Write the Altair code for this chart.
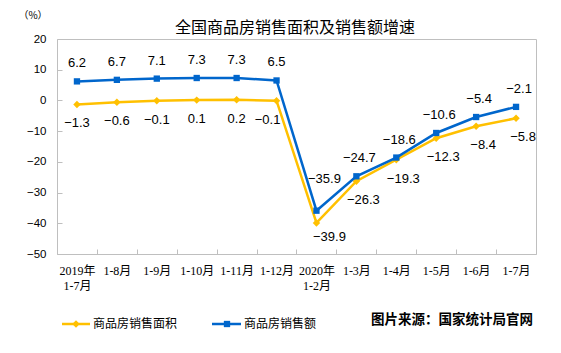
import altair as alt
import pandas as pd

categories = ["2019年 1-7月", "1-8月", "1-9月", "1-10月", "1-11月", "1-12月",
              "2020年 1-2月", "1-3月", "1-4月", "1-5月", "1-6月", "1-7月"]
area_growth = [-1.3, -0.6, -0.1, 0.1, 0.2, -0.1, -39.9, -26.3, -19.3, -12.3, -8.4, -5.8]
sales_growth = [6.2, 6.7, 7.1, 7.3, 7.3, 6.5, -35.9, -24.7, -18.6, -10.6, -5.4, -2.1]
series_names = ["商品房销售面积", "商品房销售额"]
colors = ["#FFC000", "#0066CC"]

rows = []
for i, c in enumerate(categories):
    rows.append({"category": c, "value": area_growth[i], "series": series_names[0], "idx": i})
    rows.append({"category": c, "value": sales_growth[i], "series": series_names[1], "idx": i})
df = pd.DataFrame(rows)

SANS = "Liberation Sans, Arial, sans-serif"
CJK = "Noto Sans CJK SC"
SERIF_X = "Liberation Serif, Noto Sans CJK SC"
GRAY = "#BFBFBF"

x_enc = alt.X("category:N", sort=categories,
              scale=alt.Scale(type="band", paddingInner=0, paddingOuter=0),
              axis=alt.Axis(title=None, labelAngle=0, domain=False, grid=False,
                            ticks=True, tickSize=5, tickColor=GRAY, tickBand="extent",
                            offset=-5, labelPadding=11, labelFont=SERIF_X,
                            labelFontSize=12, labelColor="#000000",
                            labelExpr="split(datum.label, ' ')", labelLineHeight=15))
y_enc = alt.Y("value:Q", scale=alt.Scale(domain=[-50, 20], nice=False, zero=False),
              axis=alt.Axis(title=None, values=list(range(-50, 21, 10)), domain=False,
                            grid=False, tickSize=5, tickColor=GRAY, offset=-5,
                            labelPadding=11, labelFont=SANS, labelFontSize=11.5,
                            labelColor="#000000"))

base = alt.Chart(df).encode(x=x_enc, y=y_enc)


def label_layer(d, cond, dx, dy):
    return d.transform_filter(cond).mark_text(
        font=SANS, fontSize=13, color="#000000", dx=dx, dy=dy, baseline="middle"
    ).encode(text=alt.Text("value:Q", format=".1f"))


def series_layers(name, color, shape, size, groups):
    d = base.transform_filter(alt.datum.series == name)
    line = d.mark_line(color=color, strokeWidth=2.5)
    pts = d.mark_point(shape=shape, filled=True, size=size, color=color, opacity=1)
    labs = [label_layer(d, cond, dx, dy) for cond, dx, dy in groups]
    return [line, pts] + labs


yellow = series_layers(series_names[0], colors[0], "diamond", 55, [
    ("datum.idx < 5", 0, 19),
    ("datum.idx == 5", -9, 19),
    ("datum.idx == 6", 13, 14),
    ("datum.idx > 6", 7, 19),
])
blue = series_layers(series_names[1], colors[1], "square", 40, [
    ("datum.idx < 6", 0, -18),
    ("datum.idx == 6", 8, -32),
    ("datum.idx > 6", 3, -18),
])

one = alt.Data(values=[{"a": 1}])

title = alt.Chart(one).mark_text(text="全国商品房销售面积及销售额增速", font=CJK, fontSize=16,
                                 color="#000000", align="center", baseline="middle").encode(
    x=alt.value(238), y=alt.value(-11))
unit = alt.Chart(one).mark_text(text="（%）", font=CJK, fontSize=10, color="#000000",
                                align="center", baseline="middle").encode(
    x=alt.value(-24), y=alt.value(-23))

leg_y = 285
leg = [
    alt.Chart(one).mark_rule(color=colors[0], strokeWidth=2.5).encode(
        x=alt.value(5), x2=alt.value(33), y=alt.value(leg_y)),
    alt.Chart(one).mark_point(shape="diamond", filled=True, size=55, color=colors[0], opacity=1).encode(
        x=alt.value(19), y=alt.value(leg_y)),
    alt.Chart(one).mark_text(text=series_names[0], font=CJK, fontSize=12, color="#000000",
                             align="left", baseline="middle").encode(x=alt.value(36), y=alt.value(leg_y)),
    alt.Chart(one).mark_rule(color=colors[1], strokeWidth=2.5).encode(
        x=alt.value(155), x2=alt.value(184), y=alt.value(leg_y)),
    alt.Chart(one).mark_point(shape="square", filled=True, size=40, color=colors[1], opacity=1).encode(
        x=alt.value(170), y=alt.value(leg_y)),
    alt.Chart(one).mark_text(text=series_names[1], font=CJK, fontSize=12, color="#000000",
                             align="left", baseline="middle").encode(x=alt.value(187), y=alt.value(leg_y)),
    alt.Chart(one).mark_text(text="图片来源：国家统计局官网", font=CJK, fontSize=13.5, fontWeight="bold",
                             color="#000000", align="right", baseline="middle").encode(
        x=alt.value(476), y=alt.value(281)),
]

chart = alt.layer(*(yellow + blue + [title, unit] + leg)).properties(
    width=479, height=215,
    autosize=alt.AutoSizeParams(type="none"),
    padding={"left": 57, "top": 39, "right": 25, "bottom": 99},
    background="white",
).configure_view(stroke=GRAY, strokeWidth=1)

chart.save("out.html", embed_options={"renderer": "svg", "actions": False})
